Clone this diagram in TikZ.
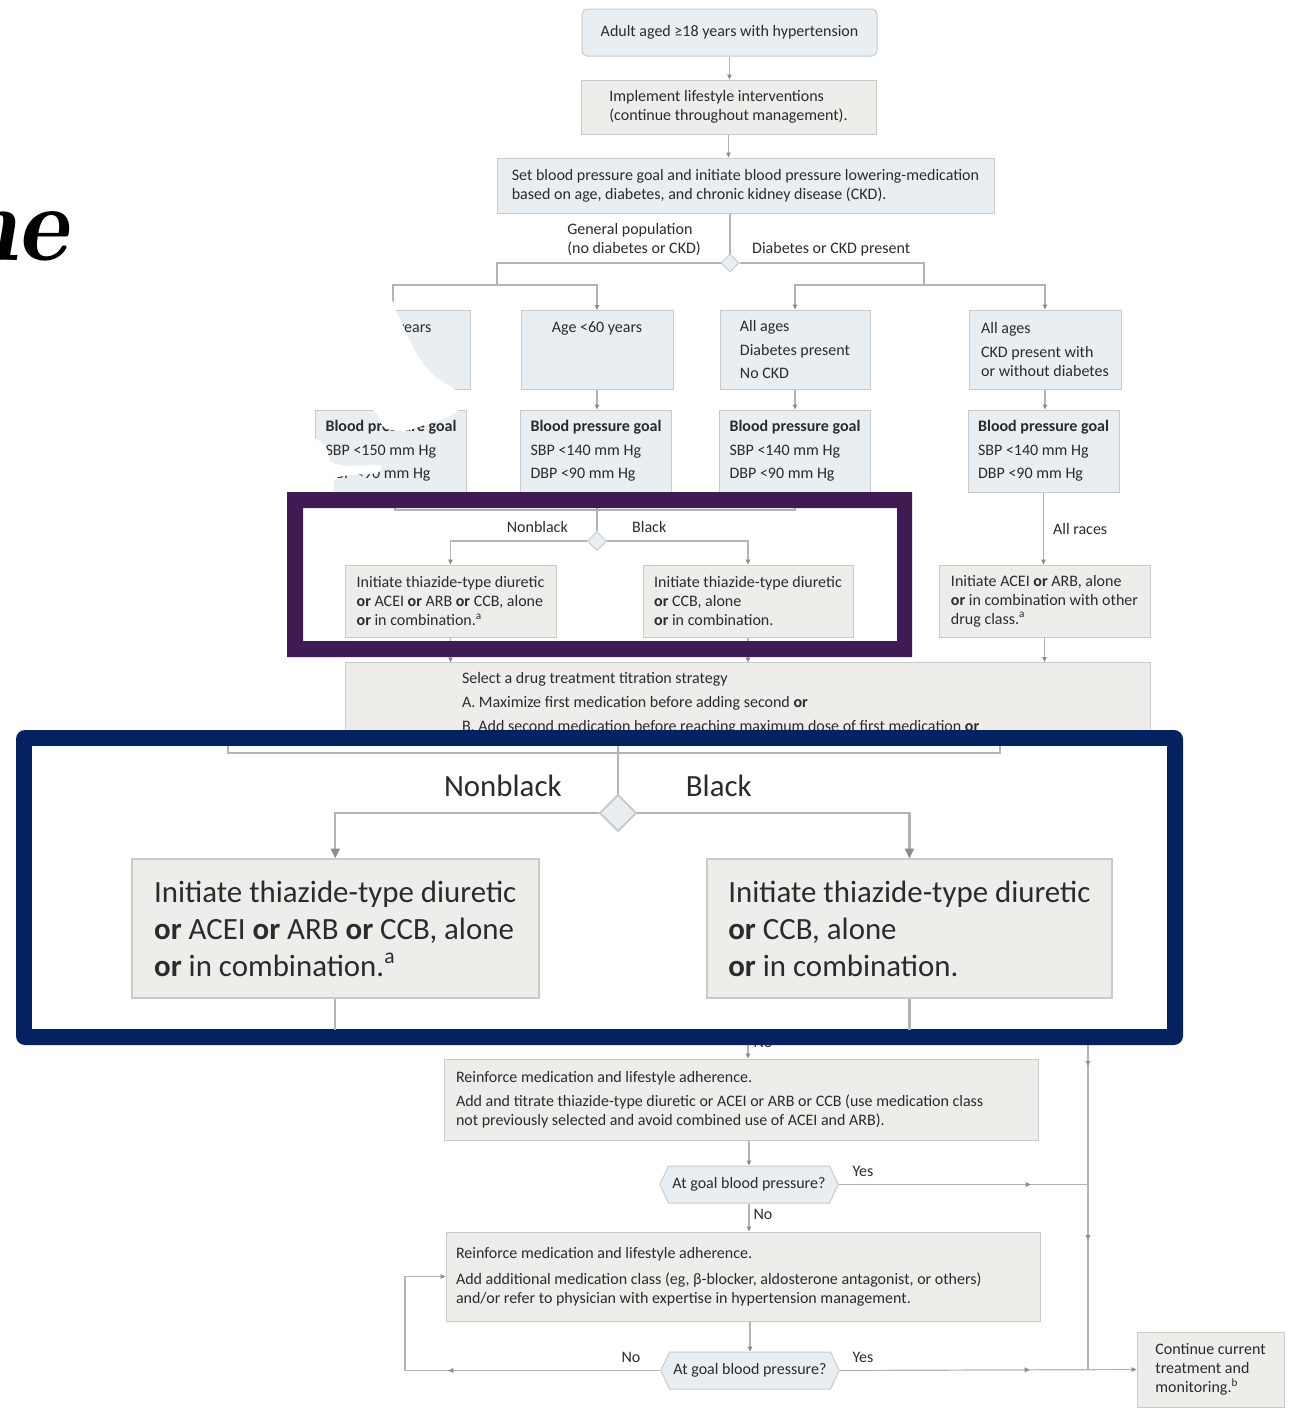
\documentclass[tikz,border=0pt]{standalone}
\usepackage{fontspec}
\setmainfont{Carlito}
\usetikzlibrary{arrows.meta, shapes.geometric, shapes.symbols, decorations.markings}

\definecolor{ink}{HTML}{2B2B2B}
\definecolor{boxblue}{HTML}{E9EEF3}
\definecolor{boxtan}{HTML}{EFEDE9}
\definecolor{boxline}{HTML}{CACACA}
\definecolor{linkgray}{HTML}{B4B4B4}
\definecolor{tipgray}{HTML}{8C8C8C}
\definecolor{framepurple}{HTML}{3E1B52}
\definecolor{framenavy}{HTML}{03225F}

\tikzset{
  body/.style={font=\fontsize{16}{19}\selectfont, text=ink},
  box/.style={body, draw=boxline, line width=1pt, align=flush left, inner xsep=10pt, inner ysep=6pt},
  bluebox/.style={box, fill=boxblue},
  tanbox/.style={box, fill=boxtan},
  note/.style={body, inner sep=1pt, align=flush left},
  gate/.style={diamond, draw=boxline, fill=boxblue, line width=1pt, inner sep=0pt,
    minimum width=19pt, minimum height=19pt},
  check/.style={signal, signal to=west and east, signal pointer angle=130, body,
    draw=boxline, fill=boxblue, line width=1pt, minimum width=178pt, minimum height=37pt,
    inner xsep=4pt},
  link/.style={draw=linkgray, line width=1.2pt},
  arr/.style={link, -{Triangle[length=5pt, width=4.5pt, color=tipgray]}},
  tipat/.style={postaction={decorate, decoration={markings,
    mark=at position #1 with {\arrow{Triangle[length=5pt, width=4.5pt, color=tipgray]}}}}},
}

% race split under the goal boxes (drawn twice: normal and enlarged)
\newcommand{\racebranch}{%
  \coordinate (gl) at (395,492);
  \coordinate (gm) at (597,492);
  \coordinate (gr) at (795,492);
  \node[gate] (race) at (597,541) {};
  \node[note, anchor=east] (nonblack) at (569,527) {Nonblack};
  \node[note, anchor=west] (black) at (631,527) {Black};
  \node[tanbox, minimum width=211pt, minimum height=72pt] (nbdrug) at (450.5,601)
    {Initiate thiazide-type diuretic\\\textbf{or} ACEI \textbf{or} ARB \textbf{or} CCB, alone\\\textbf{or} in combination.\textsuperscript{a}};
  \node[tanbox, minimum width=210pt, minimum height=72pt] (bdrug) at (748,601)
    {Initiate thiazide-type diuretic\\\textbf{or} CCB, alone\\\textbf{or} in combination.};
  \draw[link] (gl) -- ++(0,18) -| (gr);
  \draw[link] (gm) -- (race.north);
  \draw[arr] (race.west) -| (nbdrug.north);
  \draw[arr] (race.east) -| (bdrug.north);
  \draw[arr] (nbdrug.south) -- ++(0,25);
  \draw[arr] (bdrug.south) -- ++(0,25);
}

\begin{document}
\begin{tikzpicture}[x=1pt, y=-1pt]
  \useasboundingbox (0,0) rectangle (1299,1409);
  \clip (0,0) rectangle (1299,1409);

  % heading tail
  \node[anchor=base east, inner sep=0pt,
    font=\fontfamily{lmr}\fontsize{108}{108}\selectfont\bfseries\itshape] (heading) at (68,260) {ne};

  % start
  \node[bluebox, rounded corners=5pt, minimum width=295pt, minimum height=47pt] (adult) at (729.5,32.5)
    {Adult aged ≥18 years with hypertension};
  \node[tanbox, minimum width=295pt, minimum height=54pt] (life) at (728.5,107)
    {Implement lifestyle interventions\\(continue throughout management).};
  \node[bluebox, minimum width=497pt, minimum height=55pt] (goalset) at (745.5,185.5)
    {Set blood pressure goal and initiate blood pressure lowering-medication\\based on age, diabetes, and chronic kidney disease (CKD).};
  \draw[arr] (adult.south) -- (adult.south |- life.north);
  \draw[arr] (life.south) -- (life.south |- goalset.north);

  % population split
  \node[gate, minimum width=18pt, minimum height=18pt] (pop) at (730,263) {};
  \node[note, anchor=east] (general) at (702,240) {General population\\(no diabetes or CKD)};
  \node[note, anchor=west] (diabckd) at (751,249) {Diabetes or CKD present};
  \draw[link] (pop.north |- goalset.south) -- (pop.north);
  \coordinate (popl) at (497,285);
  \coordinate (popr) at (924,285);
  \draw[link] (pop.west) -| (popl);
  \draw[link] (pop.east) -| (popr);

  % age / disease groups
  \node[bluebox, anchor=north, text width=104pt, inner xsep=25pt, inner ysep=10pt, text height=12pt, text depth=47pt] (old) at (393,310)
    {Age ≥60 years};
  \node[bluebox, anchor=north, minimum width=152pt, inner ysep=10pt, text height=12pt, text depth=47pt] (young) at (597,310)
    {Age <60 years};
  \node[bluebox, minimum width=150pt, minimum height=79pt] (diab) at (795,349.5)
    {All ages\\[4.5pt]Diabetes present\\[4.5pt]No CKD};
  \node[bluebox, minimum width=152pt, minimum height=79pt] (ckd) at (1045,349.5)
    {All ages\\[5pt]CKD present with\\or without diabetes};
  \draw[arr] (popl) -| (old.north);
  \draw[arr] (popl) -| (young.north);
  \draw[arr] (popr) -| (diab.north);
  \draw[arr] (popr) -| (ckd.north);

  % goals
  \node[bluebox, minimum width=150pt, minimum height=82pt] (oldgoal) at (391,451)
    {\textbf{Blood pressure goal}\\[4.5pt]SBP <150 mm Hg\\[4.5pt]DBP <90 mm Hg};
  \node[bluebox, minimum width=150pt, minimum height=82pt] (younggoal) at (596,451)
    {\textbf{Blood pressure goal}\\[4.5pt]SBP <140 mm Hg\\[4.5pt]DBP <90 mm Hg};
  \node[bluebox, minimum width=150pt, minimum height=82pt] (diabgoal) at (795,451)
    {\textbf{Blood pressure goal}\\[4.5pt]SBP <140 mm Hg\\[4.5pt]DBP <90 mm Hg};
  \node[bluebox, minimum width=151pt, minimum height=82pt] (ckdgoal) at (1043.5,451)
    {\textbf{Blood pressure goal}\\[4.5pt]SBP <140 mm Hg\\[4.5pt]DBP <90 mm Hg};
  \draw[arr] (old.south) -- (old.south |- oldgoal.north);
  \draw[arr] (young.south) -- (young.south |- younggoal.north);
  \draw[arr] (diab.south) -- (diab.south |- diabgoal.north);
  \draw[arr] (ckd.south) -- (ckd.south |- ckdgoal.north);

  % first drugs
  \racebranch
  \node[tanbox, minimum width=211pt, minimum height=72pt] (ckddrug) at (1044.5,601)
    {Initiate ACEI \textbf{or} ARB, alone\\\textbf{or} in combination with other\\drug class.\textsuperscript{a}};
  \draw[arr] (ckdgoal.south) -- (ckdgoal.south |- ckddrug.north)
    node[note, midway, anchor=west, xshift=8pt] (allraces) {All races};

  % titration
  \node[tanbox, anchor=north, text width=571pt, inner xsep=117pt, inner ysep=10pt, text depth=100pt] (titrate) at (747.5,662)
    {Select a drug treatment titration strategy\\[5pt]A. Maximize first medication before adding second \textbf{or}\\[5pt]B. Add second medication before reaching maximum dose of first medication \textbf{or}};
  \draw[arr] (ckddrug.south) -- (ckddrug.south |- titrate.north);

  % second and third steps
  \coordinate (nojoin) at (748,1030);
  \coordinate (rail) at (1088,1030);
  \coordinate (loop) at (405,1370.5);
  \node[note] (no1) at (763,1042) {No};
  \node[tanbox, text width=570pt, inner xsep=12pt, minimum height=81pt] (addone) at (741,1099.5)
    {Reinforce medication and lifestyle adherence.\\[5pt]Add and titrate thiazide-type diuretic or ACEI or ARB or CCB (use medication class\\not previously selected and avoid combined use of ACEI and ARB).};
  \node[check] (bpone) at (749,1184.5) {At goal blood pressure?};
  \node[note] (yes1) at (863,1171) {Yes};
  \node[note] (no2) at (763,1214) {No};
  \node[tanbox, text width=574pt, inner xsep=10pt, minimum height=89pt] (addtwo) at (743,1276.5)
    {Reinforce medication and lifestyle adherence.\\[7pt]Add additional medication class (eg, β-blocker, aldosterone antagonist, or others)\\and/or refer to physician with expertise in hypertension management.};
  \node[check] (bptwo) at (750,1370.5) {At goal blood pressure?};
  \node[note] (yes2) at (863,1357) {Yes};
  \node[note] (no3) at (631,1357) {No};
  \node[tanbox, minimum width=147pt, minimum height=75pt, inner xsep=8pt] (keep) at (1210.5,1369.5)
    {Continue current\\treatment and\\monitoring.\textsuperscript{b}};
  \draw[arr] (nojoin) -- (nojoin |- addone.north);
  \draw[arr] (addone.south -| bpone.north) -- (bpone.north);
  \draw[arr] (bpone.south) -- (bpone.south |- addtwo.north);
  \draw[arr] (addtwo.south -| bptwo.north) -- (bptwo.north);
  \draw[link, tipat=36pt, tipat=210pt] (rail) -- (rail |- keep.west);
  \draw[link, tipat=192pt] (bpone.east) -- (bpone.east -| rail);
  \draw[arr, tipat=190pt] (bptwo.east) -- (keep.west);
  \draw[arr, tipat=212pt] (bptwo.west) -- (loop) |- (addtwo.west);

  % white patches over the first column
  \fill[white] plot[smooth cycle, tension=0.5] coordinates {(300,296) (386,299) (396,312) (405,330)
    (414,349) (425,366) (438,379) (453,388) (454,399) (300,399)};
  \fill[white] plot[smooth cycle, tension=0.5] coordinates {(376,404) (455,407) (446,418) (428,424)
    (404,431) (385,428) (378,416)};
  \fill[white] plot[smooth cycle, tension=0.5] coordinates {(300,436) (318,440) (327,449) (331,462)
    (352,466) (380,465) (377,473) (350,475) (335,479) (331,495) (300,495)};

  % purple frame
  \fill[framepurple, even odd rule] (287,492) rectangle (912,657) (303,508) rectangle (897,641);

  % navy frame with the enlarged race split
  \fill[framenavy, rounded corners=9pt] (16,730) rectangle (1183,1045);
  \fill[white] (32,746) rectangle (1167,1029);
  \begin{scope}
    \clip (32,746) rectangle (1167,1029);
    \begin{scope}[transform canvas={shift={(618,813)}, scale=1.93, shift={(-597,-541)}}, name prefix=zoom-]
      \racebranch
    \end{scope}
  \end{scope}
\end{tikzpicture}
\end{document}
